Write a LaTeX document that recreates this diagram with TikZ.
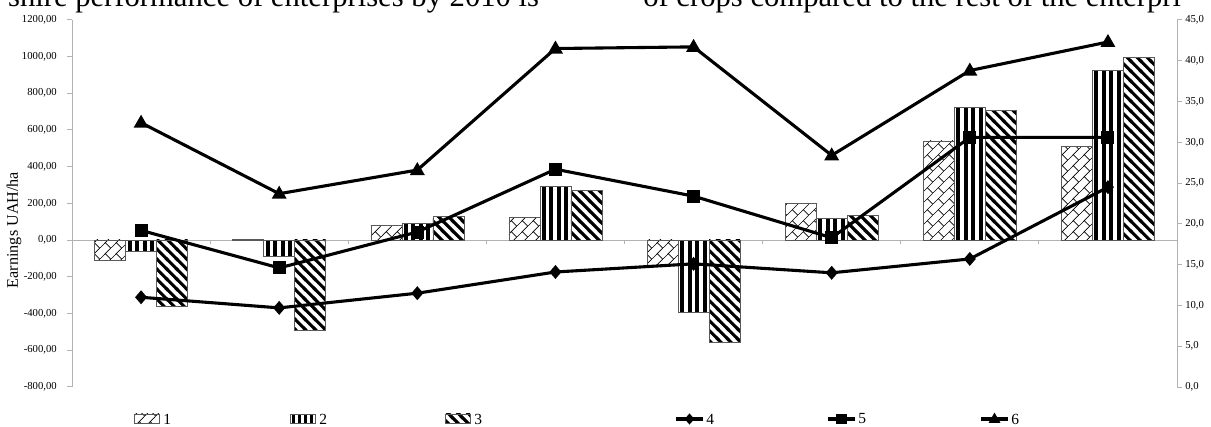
\documentclass[tikz,border=0pt]{standalone}
\usepackage{fontspec}
\setmainfont{Liberation Serif}
\usetikzlibrary{patterns,positioning,calc}

% bar fills
\pgfdeclarepatternformonly{dbars}{\pgfpointorigin}{\pgfqpoint{7pt}{7pt}}{\pgfqpoint{7pt}{7pt}}{%
  \pgfsetlinewidth{2.2pt}
  \pgfpathmoveto{\pgfqpoint{-1pt}{8pt}}\pgfpathlineto{\pgfqpoint{8pt}{-1pt}}
  \pgfpathmoveto{\pgfqpoint{-1pt}{1pt}}\pgfpathlineto{\pgfqpoint{1pt}{-1pt}}
  \pgfpathmoveto{\pgfqpoint{6pt}{8pt}}\pgfpathlineto{\pgfqpoint{8pt}{6pt}}
  \pgfusepath{stroke}}
\pgfdeclarepatternformonly{brick}{\pgfpointorigin}{\pgfqpoint{8pt}{8pt}}{\pgfqpoint{8pt}{8pt}}{%
  \pgfsetlinewidth{0.5pt}
  \pgfpathmoveto{\pgfqpoint{-1pt}{-1pt}}\pgfpathlineto{\pgfqpoint{9pt}{9pt}}
  \pgfpathmoveto{\pgfqpoint{4pt}{4pt}}\pgfpathlineto{\pgfqpoint{8pt}{0pt}}
  \pgfusepath{stroke}}

\begin{document}
\begin{tikzpicture}[
  x=0.25mm, y=0.25mm,
  axis options/.style = {draw=black!30,line width=0.7pt},
  bar options/.style = {draw=black!65,line width=0.45pt},
  series options/.style = {line width=2.2pt,line join=round},
  tick label/.style = {font=\fontsize{7.6}{8}\selectfont,inner sep=0pt},
  legend label/.style = {font=\fontsize{11}{12}\selectfont,inner sep=0pt,anchor=west},
  text options/.style = {font=\fontsize{21.8}{24}\selectfont,inner sep=0pt,anchor=base west},
  diamond mark/.pic = {\fill (0,7) -- (6,0) -- (0,-7) -- (-6,0) -- cycle;},
  square mark/.pic = {\fill (-6.5,-6.5) rectangle (6.5,6.5);},
  triangle mark/.pic = {\fill (0,8) -- (7.5,-5) -- (-7.5,-5) -- cycle;},
  ]
  \useasboundingbox (0,0) rectangle (1211,427);
  \clip (0,0) rectangle (1211,427);

  % clipped line of the page above
  \node[text options] (text a) at (75,420) {performance of enterprises by 2010 is};
  \node[text options,anchor=base east] (text b) at ($(text a.base west)+(-7,0)$) {shire};
  \node[text options] (text c) at (643,420) {of crops compared to the rest of the enterpri};

  % axes
  \draw[axis options] (72,40) -- (72,407);
  \draw[axis options] (1177,40) -- (1177,407);
  \draw[axis options] (72,187) -- (1177,187);
  \foreach \v in {-800,-600,...,1200} {
    \draw[axis options] (67,187+\v*0.1835) -- (72,187+\v*0.1835);
    \node[tick label,anchor=east] (l\v) at (57,187+\v*0.1835) {\v,00};
  }
  \foreach \r in {0,5,...,45} {
    \draw[axis options] (1177,40+\r*8.156) -- (1182,40+\r*8.156);
    \node[tick label,anchor=west] (r\r) at (1185,40+\r*8.156) {\r,0};
  }
  \foreach \i in {1,...,7}
    \draw[axis options] (72+138.125*\i,187) -- (72+138.125*\i,183);
  \node[rotate=90,font=\fontsize{11.5}{13}\selectfont] (ytitle) at (14,197) {Earnings UAH/ha};

  % bars
  \foreach \i/\a/\b/\c in {1/-113/-60/-360, 2/3/-88/-490, 3/80/92/130, 4/125/295/268,
      5/-137/-392/-560, 6/200/120/136, 7/540/725/708, 8/512/927/997} {
    \pgfmathsetmacro\cx{72+138.125*(\i-0.5)}
    \fill[white] (\cx-46.5,187) rectangle (\cx+46.5,187+\a*0.1835);
    \draw[bar options,pattern=brick] (\cx-46.5,187) rectangle (\cx-15.5,187+\a*0.1835);
    \foreach \k in {0,...,3}
      \fill (\cx-13.5+\k*7.5,187) rectangle ++(4,\b*0.1835);
    \draw[bar options] (\cx-15.5,187) rectangle (\cx+15.5,187+\b*0.1835);
    \draw[bar options,pattern=dbars] (\cx+15.5,187) rectangle (\cx+46.5,187+\c*0.1835);
  }

  % lines
  \foreach \i/\p/\q/\s in {1/11.0/19.2/32.4, 2/9.7/14.6/23.7, 3/11.5/19.0/26.6, 4/14.1/26.7/41.5,
      5/15.1/23.4/41.7, 6/14.0/18.3/28.4, 7/15.7/30.6/38.8, 8/24.5/30.6/42.3} {
    \coordinate (d\i) at (72+138.125*\i-69.06,40+\p*8.156);
    \coordinate (s\i) at (72+138.125*\i-69.06,40+\q*8.156);
    \coordinate (t\i) at (72+138.125*\i-69.06,40+\s*8.156);
  }
  \foreach \n/\m in {d/diamond mark,s/square mark,t/triangle mark} {
    \draw[series options] (\n1) -- (\n2) -- (\n3) -- (\n4) -- (\n5) -- (\n6) -- (\n7) -- (\n8);
    \foreach \i in {1,...,8} \path (\n\i) pic {\m};
  }

  % legend
  \draw[bar options,pattern=brick] (134,4) rectangle (159,13);
  \node[legend label] (key1) at (163,8) {1};
  \foreach \k in {0,...,3}
    \fill (291.5+\k*6,4) rectangle ++(3.8,9);
  \draw[bar options] (290,4) rectangle (315,13);
  \node[legend label] (key2) at (319,8) {2};
  \draw[bar options,pattern=dbars] (445,4) rectangle (470,13);
  \node[legend label] (key3) at (474,8) {3};
  \foreach \x/\m/\t in {676/diamond mark/4, 828/square mark/5, 981/triangle mark/6} {
    \draw[series options] (\x,8) -- (\x+27,8);
    \path (\x+13.5,8) pic[scale=0.8] {\m};
    \node[legend label] (key\t) at (\x+30,8) {\t};
  }
\end{tikzpicture}
\end{document}
